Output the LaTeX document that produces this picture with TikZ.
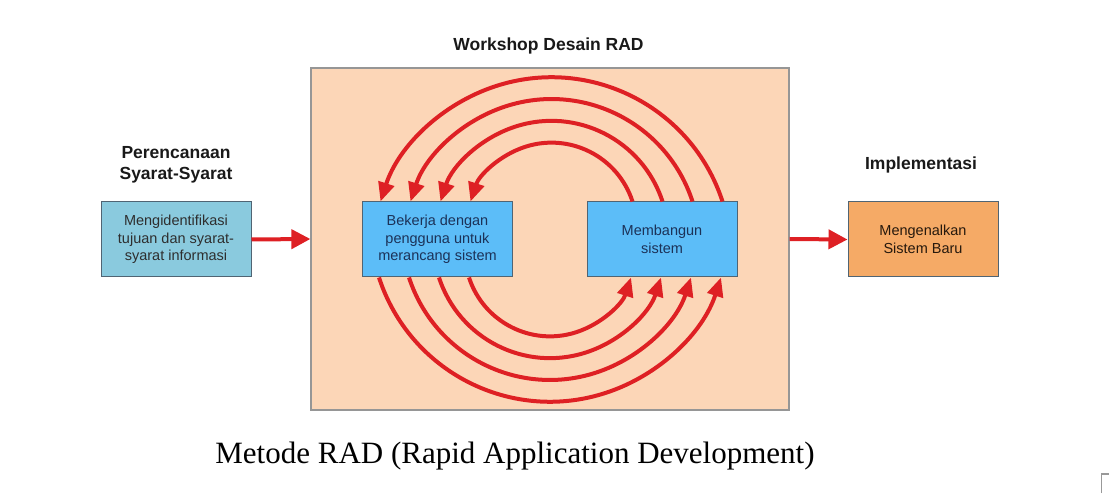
\documentclass[tikz,border=0pt]{standalone}
\usepackage{fontspec}
\setmainfont{Liberation Sans}
\newfontfamily\captionserif{Liberation Serif}
\usetikzlibrary{arrows.meta}

\definecolor{peach}{RGB}{252,214,183}
\definecolor{frame}{RGB}{150,150,150}
\definecolor{planblue}{RGB}{138,202,222}
\definecolor{workblue}{RGB}{92,189,248}
\definecolor{introorange}{RGB}{245,170,102}
\definecolor{arrowred}{RGB}{222,32,36}
\definecolor{boxline}{RGB}{80,100,115}
\definecolor{navytext}{RGB}{28,50,88}

\begin{document}
\begin{tikzpicture}[x=1pt,y=1pt,
  box/.style={draw=boxline, line width=1pt, minimum width=150pt, minimum height=75pt,
    inner sep=0pt, align=center, font=\fontsize{14.5}{17.5}\selectfont},
  heading/.style={align=center, text=black!90, font=\bfseries\fontsize{17.5}{21}\selectfont},
  redarrow/.style={draw=arrowred, line width=4pt, -{Triangle[length=19pt,width=19pt]}},
  looparrow/.style={draw=arrowred, line width=4pt, -{Triangle[length=19pt,width=16pt]}}]
\useasboundingbox (0,0) rectangle (1109,493);

% workshop frame
\node[draw=frame, fill=peach, line width=1.2pt, minimum width=478pt, minimum height=342pt,
  inner sep=0pt] (workshop) at (550,254) {};
\node[heading] (wstitle) at (548.5,447) {Workshop Desain RAD};

% three phases
\node[heading] (plantitle) at (176,328) {Perencanaan\\Syarat-Syarat};
\node[box, fill=planblue, text=black!82] (plan) at (176,253.5)
  {Mengidentifikasi\\tujuan dan syarat-\\syarat informasi};
\node[box, fill=workblue, text=navytext] (design) at (437.5,253.5)
  {Bekerja dengan\\pengguna untuk\\merancang sistem};
\node[box, fill=workblue, text=navytext] (build) at (662,253.5) {Membangun\\sistem};
\node[heading] (introtitle) at (921,328) {Implementasi};
\node[box, fill=introorange, text=black!80!brown] (intro) at (923,253.5)
  {Mengenalkan\\Sistem Baru};

\draw[redarrow] (plan.east) -- (workshop.west);
\draw[redarrow] (workshop.east) -- (intro.west);

% design / build cycles
\foreach \d in {0,30,60,90}{
  \draw[looparrow] ([xshift={-(15+\d)}]build.north east)
    arc[start angle=18, end angle=162, radius={(171-\d)/cos(18)}];
  \draw[looparrow] ([xshift={17+\d}]design.south west)
    arc[start angle=198, end angle=342, radius={(171-\d)/cos(18)}];
}

\node[anchor=base, font=\captionserif\fontsize{31}{36}\selectfont] (caption) at (515,30)
  {Metode RAD (Rapid Application Development)};

\draw[black!40, line width=1.3pt] (1101.5,0) -- (1101.5,19) -- (1109,19);
\end{tikzpicture}
\end{document}
